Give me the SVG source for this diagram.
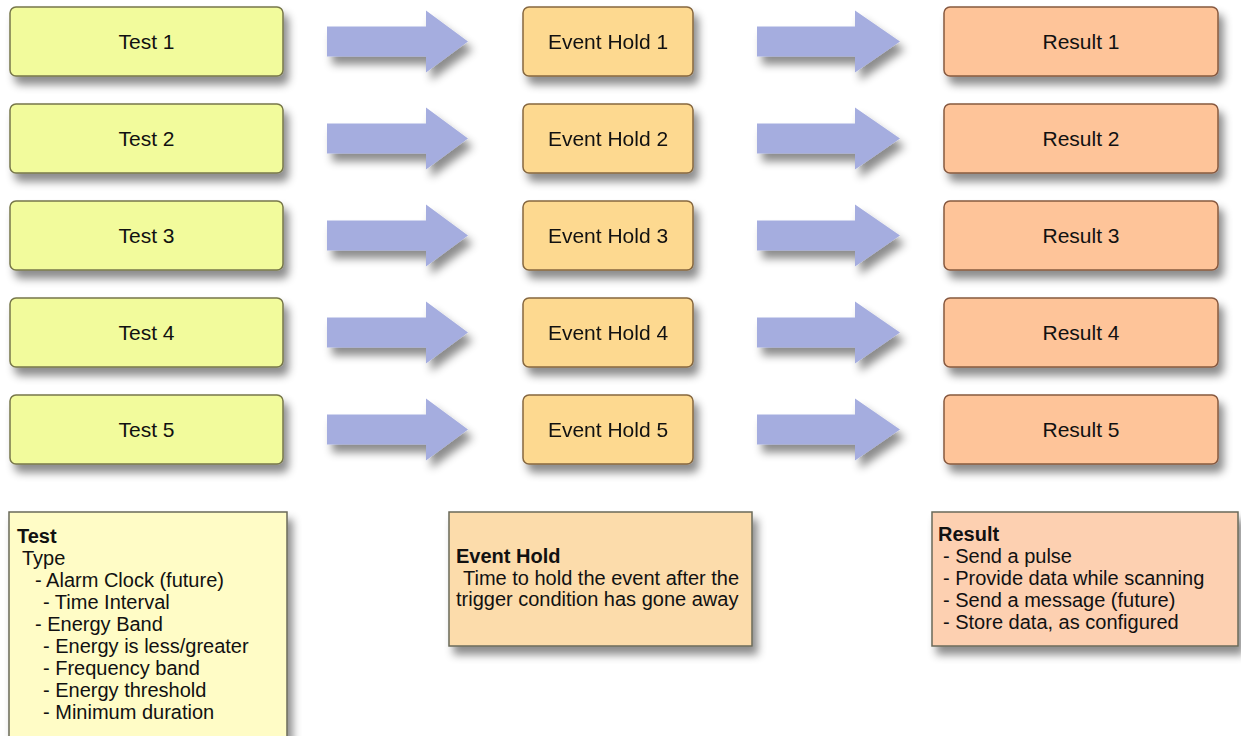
<svg xmlns="http://www.w3.org/2000/svg" width="1241" height="736" viewBox="0 0 1241 736">
<defs>
<filter id="sh" x="-20%" y="-30%" width="150%" height="180%">
<feDropShadow dx="5" dy="8" stdDeviation="4" flood-color="#000" flood-opacity="0.45"/>
</filter>
</defs>
<style>
text{font-family:"Liberation Sans",Arial,sans-serif;fill:#111;}
.lbl{font-size:21px;text-anchor:middle;}
.leg{font-size:20px;}
.b{font-weight:bold;}
.test{fill:#f2fb9c;stroke:#77774a;stroke-width:1.5;}
.hold{fill:#fdd990;stroke:#86673f;stroke-width:1.5;}
.res{fill:#fec499;stroke:#87593f;stroke-width:1.5;}
.arrow{fill:#a5addf;}
.ltest{fill:#fffcc6;stroke:#6a6a5a;stroke-width:1.5;}
.lhold{fill:#fcdcab;stroke:#6a6a5a;stroke-width:1.5;}
.lres{fill:#fdd0b1;stroke:#6a6a5a;stroke-width:1.5;}
</style>
<rect width="1241" height="736" fill="#fff"/>
<g id="connectors" filter="url(#sh)">
<path class="arrow" d="M327,26.5 H426 V10.5 L468,41.5 L426,72.5 V56.5 H327 Z"/>
<path class="arrow" d="M327,26.5 H426 V10.5 L468,41.5 L426,72.5 V56.5 H327 Z" transform="translate(0,97)"/>
<path class="arrow" d="M327,26.5 H426 V10.5 L468,41.5 L426,72.5 V56.5 H327 Z" transform="translate(0,194)"/>
<path class="arrow" d="M327,26.5 H426 V10.5 L468,41.5 L426,72.5 V56.5 H327 Z" transform="translate(0,291)"/>
<path class="arrow" d="M327,26.5 H426 V10.5 L468,41.5 L426,72.5 V56.5 H327 Z" transform="translate(0,388)"/>
<path class="arrow" d="M757,26.5 H855 V10.5 L900,41.5 L855,72.5 V56.5 H757 Z"/>
<path class="arrow" d="M757,26.5 H855 V10.5 L900,41.5 L855,72.5 V56.5 H757 Z" transform="translate(0,97)"/>
<path class="arrow" d="M757,26.5 H855 V10.5 L900,41.5 L855,72.5 V56.5 H757 Z" transform="translate(0,194)"/>
<path class="arrow" d="M757,26.5 H855 V10.5 L900,41.5 L855,72.5 V56.5 H757 Z" transform="translate(0,291)"/>
<path class="arrow" d="M757,26.5 H855 V10.5 L900,41.5 L855,72.5 V56.5 H757 Z" transform="translate(0,388)"/>
</g>
<g id="test1"><rect class="test" x="10" y="7" width="273" height="69" rx="6" filter="url(#sh)"/><text class="lbl" x="146.5" y="49">Test 1</text></g>
<g id="test2"><rect class="test" x="10" y="104" width="273" height="69" rx="6" filter="url(#sh)"/><text class="lbl" x="146.5" y="146">Test 2</text></g>
<g id="test3"><rect class="test" x="10" y="201" width="273" height="69" rx="6" filter="url(#sh)"/><text class="lbl" x="146.5" y="243">Test 3</text></g>
<g id="test4"><rect class="test" x="10" y="298" width="273" height="69" rx="6" filter="url(#sh)"/><text class="lbl" x="146.5" y="340">Test 4</text></g>
<g id="test5"><rect class="test" x="10" y="395" width="273" height="69" rx="6" filter="url(#sh)"/><text class="lbl" x="146.5" y="437">Test 5</text></g>
<g id="hold1"><rect class="hold" x="523" y="7" width="170" height="69" rx="6" filter="url(#sh)"/><text class="lbl" x="608" y="49">Event Hold 1</text></g>
<g id="hold2"><rect class="hold" x="523" y="104" width="170" height="69" rx="6" filter="url(#sh)"/><text class="lbl" x="608" y="146">Event Hold 2</text></g>
<g id="hold3"><rect class="hold" x="523" y="201" width="170" height="69" rx="6" filter="url(#sh)"/><text class="lbl" x="608" y="243">Event Hold 3</text></g>
<g id="hold4"><rect class="hold" x="523" y="298" width="170" height="69" rx="6" filter="url(#sh)"/><text class="lbl" x="608" y="340">Event Hold 4</text></g>
<g id="hold5"><rect class="hold" x="523" y="395" width="170" height="69" rx="6" filter="url(#sh)"/><text class="lbl" x="608" y="437">Event Hold 5</text></g>
<g id="result1"><rect class="res" x="944" y="7" width="274" height="69" rx="6" filter="url(#sh)"/><text class="lbl" x="1081" y="49">Result 1</text></g>
<g id="result2"><rect class="res" x="944" y="104" width="274" height="69" rx="6" filter="url(#sh)"/><text class="lbl" x="1081" y="146">Result 2</text></g>
<g id="result3"><rect class="res" x="944" y="201" width="274" height="69" rx="6" filter="url(#sh)"/><text class="lbl" x="1081" y="243">Result 3</text></g>
<g id="result4"><rect class="res" x="944" y="298" width="274" height="69" rx="6" filter="url(#sh)"/><text class="lbl" x="1081" y="340">Result 4</text></g>
<g id="result5"><rect class="res" x="944" y="395" width="274" height="69" rx="6" filter="url(#sh)"/><text class="lbl" x="1081" y="437">Result 5</text></g>
<g id="legend-test">
<rect class="ltest" x="9" y="512" width="278" height="240" filter="url(#sh)"/>
<text class="leg b" x="17" y="543">Test</text>
<text class="leg" x="22" y="565">Type</text>
<text class="leg" x="35" y="587">- Alarm Clock (future)</text>
<text class="leg" x="43" y="609">- Time Interval</text>
<text class="leg" x="35" y="631">- Energy Band</text>
<text class="leg" x="43" y="653">- Energy is less/greater</text>
<text class="leg" x="43" y="675">- Frequency band</text>
<text class="leg" x="43" y="697">- Energy threshold</text>
<text class="leg" x="43" y="719">- Minimum duration</text>
</g>
<g id="legend-hold">
<rect class="lhold" x="449" y="512" width="303" height="134" filter="url(#sh)"/>
<text class="leg b" x="456" y="563">Event Hold</text>
<text class="leg" x="463" y="585">Time to hold the event after the</text>
<text class="leg" x="456" y="606">trigger condition has gone away</text>
</g>
<g id="legend-result">
<rect class="lres" x="932" y="512" width="306" height="134" filter="url(#sh)"/>
<text class="leg b" x="938" y="541">Result</text>
<text class="leg" x="943" y="563">- Send a pulse</text>
<text class="leg" x="943" y="585">- Provide data while scanning</text>
<text class="leg" x="943" y="607">- Send a message (future)</text>
<text class="leg" x="943" y="629">- Store data, as configured</text>
</g>
</svg>
